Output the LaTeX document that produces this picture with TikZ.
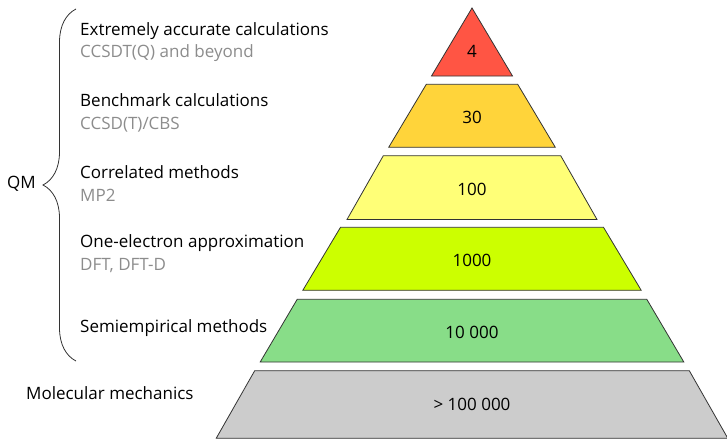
\documentclass[tikz,border=0pt]{standalone}
\usepackage{fontspec}
\setmainfont{Open Sans}
\usetikzlibrary{decorations.pathreplacing,positioning}
\definecolor{lvlred}{HTML}{FF5544}
\definecolor{lvlgold}{HTML}{FFD43A}
\definecolor{lvlyellow}{HTML}{FFFF77}
\definecolor{lvllime}{HTML}{CCFF00}
\definecolor{lvlgreen}{HTML}{88DD88}
\definecolor{lvlgray}{HTML}{CCCCCC}
\tikzset{
    layer/.style={draw=black!80, line width=0.8pt, line join=miter},
    count/.style={inner sep=0pt, font=\fontsize{17}{20}\selectfont},
    title/.style={anchor=base west, inner sep=0pt, font=\fontsize{17}{20}\selectfont},
    sub/.style={title, text=black!45}
}
\begin{document}
\begin{tikzpicture}[x=1pt, y=-1pt]
    \useasboundingbox (0,0) rectangle (727,439);

    % pyramid: top y / top half width / bottom y / bottom half width / colour / label y / count
    \foreach \yt/\wt/\yb/\wb/\col/\ny/\num [count=\i] in {
        8/0/76/40.5/lvlred/51/4,
        84.3/45.7/147.3/83.3/lvlgold/117/30,
        155.7/88.7/219.5/125/lvlyellow/189/100,
        227.3/131.5/290.3/169.2/lvllime/260/1000,
        299.3/174.8/362/211.8/lvlgreen/332/10~000,
        370.7/217.3/438.3/255.8/lvlgray/404/>~100~000}
    {
        \filldraw[layer, fill=\col] (472-\wt,\yt) -- (472+\wt,\yt)
            -- (472+\wb,\yb) -- (472-\wb,\yb) -- cycle;
        \node[count] (n\i) at (472,\ny) {\num};
    }

    \node[title] (t1) at (80,35.7) {Extremely accurate calculations};
    \node[sub]   (s1) at (80,57.5) {CCSDT(Q) and beyond};
    \node[title] (t2) at (80,106) {Benchmark calculations};
    \node[sub]   (s2) at (80,129) {CCSD(T)/CBS};
    \node[title] (t3) at (80,178.3) {Correlated methods};
    \node[sub]   (s3) at (80,201.7) {MP2};
    \node[title] (t4) at (80,247) {One-electron approximation};
    \node[sub]   (s4) at (80,270) {DFT, DFT-D};
    \node[title] (t5) at (80,332.3) {Semiempirical methods};
    \node[title] (mm) at (26,399) {Molecular mechanics};

    % QM brace
    \coordinate (qmtop) at (76,9);
    \coordinate (qmbot) at (76,361);
    \draw[draw=black!80, line width=0.8pt, decorate,
        decoration={brace, amplitude=33pt}] (qmbot) -- (qmtop);
    \node[title, anchor=base east] (qm) at (36,188.3) {QM};
\end{tikzpicture}
\end{document}
